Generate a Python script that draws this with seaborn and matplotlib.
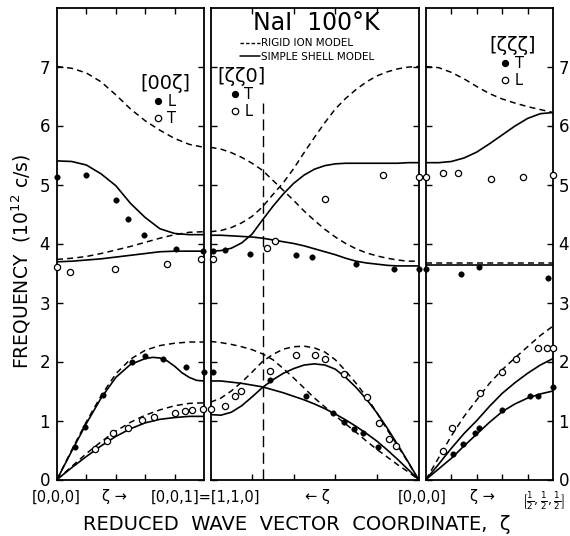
import seaborn as sns
import matplotlib.pyplot as plt
from matplotlib.lines import Line2D

# ---- [00ζ] : Γ -> X  (reduced coordinate 0..1)
z1 = [0.0, 0.1, 0.2, 0.3, 0.4, 0.5, 0.6, 0.7, 0.8, 0.9, 1.0]
lo_rigid_1 = [7.00, 6.97, 6.89, 6.74, 6.52, 6.28, 6.08, 5.92, 5.78, 5.68, 5.63]
lo_shell_1 = [5.40, 5.39, 5.33, 5.18, 4.98, 4.68, 4.44, 4.25, 4.17, 4.15, 4.15]
to_rigid_1 = [3.73, 3.75, 3.78, 3.83, 3.89, 3.95, 4.02, 4.09, 4.15, 4.19, 4.20]
to_shell_1 = [3.69, 3.70, 3.72, 3.74, 3.77, 3.80, 3.83, 3.86, 3.87, 3.87, 3.87]
la_rigid_1 = [0.0, 0.50, 0.98, 1.42, 1.79, 2.04, 2.19, 2.27, 2.31, 2.33, 2.33]
ta_rigid_1 = [0.0, 0.22, 0.44, 0.64, 0.82, 0.97, 1.09, 1.18, 1.25, 1.29, 1.30]
ta_shell_1 = [0.0, 0.20, 0.39, 0.57, 0.73, 0.86, 0.96, 1.02, 1.05, 1.07, 1.07]
z1_la = [0.0, 0.1, 0.2, 0.3, 0.4, 0.5, 0.6, 0.65, 0.7, 0.75, 0.8, 0.85, 0.9, 0.95, 1.0]
la_shell_1 = [0.0, 0.48, 0.95, 1.38, 1.73, 1.95, 2.05, 2.07, 2.06, 2.01, 1.92, 1.81, 1.73, 1.68, 1.67]

L1_z = [0.12, 0.19, 0.31, 0.51, 0.60, 0.72, 0.88, 1.0, 0.0, 0.20, 0.40, 0.48, 0.59, 0.81, 0.99]
L1_f = [0.55, 0.89, 1.44, 1.99, 2.09, 2.04, 1.91, 1.83, 5.13, 5.16, 4.74, 4.41, 4.14, 3.90, 3.88]
T1_z = [0.26, 0.34, 0.38, 0.485, 0.575, 0.66, 0.80, 0.87, 0.92, 0.99, 0.0, 0.09, 0.395, 0.75, 0.98]
T1_f = [0.51, 0.66, 0.79, 0.87, 1.01, 1.06, 1.13, 1.16, 1.17, 1.19, 3.60, 3.52, 3.57, 3.65, 3.74]

# ---- [ζζ0] : X=[1,1,0] -> Γ  (reduced coordinate 1..0)
z2 = [1.0, 0.95, 0.9, 0.85, 0.8, 0.75, 0.7, 0.65, 0.6, 0.55, 0.5,
      0.45, 0.4, 0.35, 0.3, 0.25, 0.2, 0.15, 0.1, 0.05, 0.0]
opt_rigid_up_2 = [4.20, 4.22, 4.27, 4.35, 4.46, 4.62, 4.83, 5.03, 5.27, 5.54, 5.80,
                  6.05, 6.28, 6.46, 6.61, 6.74, 6.84, 6.91, 6.96, 6.99, 7.00]
opt_rigid_dn_2 = [5.63, 5.60, 5.54, 5.46, 5.36, 5.24, 5.07, 4.90, 4.73, 4.55, 4.39,
                  4.24, 4.11, 4.00, 3.91, 3.84, 3.79, 3.75, 3.72, 3.70, 3.70]
opt_shell_up_2 = [3.87, 3.88, 3.92, 4.01, 4.16, 4.40, 4.63, 4.84, 5.02, 5.16, 5.26,
                  5.32, 5.35, 5.36, 5.36, 5.36, 5.36, 5.36, 5.36, 5.37, 5.37]
opt_shell_dn_2 = [4.14, 4.14, 4.13, 4.12, 4.11, 4.09, 4.06, 4.03, 4.00, 3.96, 3.91,
                  3.86, 3.81, 3.75, 3.70, 3.67, 3.65, 3.63, 3.62, 3.62, 3.62]
ac_rigid_a_2 = [2.34, 2.32, 2.29, 2.25, 2.20, 2.13, 2.03, 1.88, 1.72, 1.55, 1.38,
                1.23, 1.08, 0.94, 0.80, 0.65, 0.51, 0.38, 0.25, 0.13, 0.0]
ac_rigid_b_2 = [1.31, 1.38, 1.50, 1.65, 1.82, 2.00, 2.12, 2.21, 2.25, 2.26, 2.23,
                2.16, 2.03, 1.84, 1.63, 1.40, 1.13, 0.84, 0.57, 0.29, 0.0]
ac_shell_a_2 = [1.67, 1.67, 1.65, 1.63, 1.60, 1.57, 1.52, 1.47, 1.41, 1.35, 1.28,
                1.20, 1.11, 1.01, 0.90, 0.78, 0.65, 0.50, 0.34, 0.17, 0.0]
ac_shell_b_2 = [1.10, 1.09, 1.14, 1.25, 1.40, 1.56, 1.69, 1.80, 1.88, 1.94, 1.96,
                1.94, 1.87, 1.73, 1.56, 1.36, 1.13, 0.87, 0.59, 0.30, 0.0]
K_ZETA = 0.75
K_LINE_TOP = 6.38

T2_z = [0.99, 0.714, 0.54, 0.41, 0.356, 0.31, 0.265, 0.193,
        0.99, 0.93, 0.81, 0.59, 0.51, 0.30, 0.118, 0.0]
T2_f = [1.83, 1.69, 1.42, 1.12, 0.98, 0.86, 0.78, 0.55,
        3.87, 3.89, 3.83, 3.80, 3.77, 3.66, 3.56, 3.57]
L2_z = [1.0, 0.93, 0.88, 0.855, 0.714, 0.59, 0.50, 0.45, 0.356, 0.25, 0.19, 0.14, 0.11,
        0.99, 0.73, 0.69, 0.45, 0.17, 0.0]
L2_f = [1.19, 1.25, 1.42, 1.50, 1.84, 2.11, 2.11, 2.04, 1.78, 1.40, 0.95, 0.69, 0.56,
        3.74, 3.92, 4.04, 4.75, 5.16, 5.13]

# ---- [ζζζ] : Γ -> L  (reduced coordinate 0..1/2)
z3 = [0.0, 0.05, 0.1, 0.15, 0.2, 0.25, 0.3, 0.35, 0.4, 0.45, 0.5]
lo_rigid_3 = [7.00, 6.98, 6.90, 6.79, 6.66, 6.54, 6.45, 6.38, 6.32, 6.27, 6.22]
lo_shell_3 = [5.37, 5.37, 5.39, 5.45, 5.55, 5.69, 5.84, 5.99, 6.12, 6.20, 6.22]
to_rigid_3 = [3.67, 3.67, 3.67, 3.67, 3.67, 3.67, 3.67, 3.67, 3.67, 3.67, 3.67]
to_shell_3 = [3.63, 3.63, 3.63, 3.63, 3.63, 3.63, 3.63, 3.63, 3.63, 3.63, 3.63]
la_rigid_3 = [0.0, 0.37, 0.74, 1.07, 1.35, 1.63, 1.86, 2.06, 2.25, 2.44, 2.60]
la_shell_3 = [0.0, 0.26, 0.53, 0.78, 1.00, 1.24, 1.46, 1.64, 1.80, 1.94, 2.05]
ta_shell_3 = [0.0, 0.18, 0.36, 0.57, 0.77, 0.97, 1.15, 1.28, 1.38, 1.45, 1.50]

T3_z = [0.107, 0.147, 0.193, 0.208, 0.30, 0.41, 0.44, 0.50, 0.0, 0.137, 0.21, 0.48]
T3_f = [0.43, 0.61, 0.79, 0.88, 1.18, 1.42, 1.42, 1.57, 3.57, 3.48, 3.60, 3.42]
L3_z = [0.066, 0.104, 0.213, 0.30, 0.356, 0.44, 0.475, 0.50,
        0.0, 0.068, 0.127, 0.255, 0.38, 0.50]
L3_f = [0.48, 0.87, 1.47, 1.82, 2.04, 2.23, 2.23, 2.23,
        5.13, 5.19, 5.19, 5.09, 5.12, 5.16]

sns.set_style("ticks", {"xtick.direction": "in", "ytick.direction": "in"})
plt.rcParams["font.family"] = ["DejaVu Sans"]
plt.rcParams.update({"text.color": "black", "axes.labelcolor": "black",
                     "xtick.color": "black", "ytick.color": "black"})

W, H = 570, 536
fig = plt.figure(figsize=(W / 100, H / 100), dpi=100)


def panel(x0, x1, top=7.5, bottom=479.5):
    return fig.add_axes([x0 / W, 1 - bottom / H, (x1 - x0) / W, (bottom - top) / H])


ax1 = panel(57, 204)
ax2 = panel(210.5, 418.5)
ax3 = panel(426, 553)

DASH = (0, (4, 2.8))
LW = 1.2


def curve(ax, x, y, dashed):
    sns.lineplot(x=x, y=y, ax=ax, color="black", lw=LW * (0.9 if dashed else 1.0),
                 linestyle=DASH if dashed else "-", sort=False, estimator=None)


def points(ax, x, y, filled):
    if filled:
        sns.scatterplot(x=x, y=y, ax=ax, s=16, color="black", edgecolor="black",
                        linewidth=0.3, clip_on=False, zorder=5)
    else:
        sns.scatterplot(x=x, y=y, ax=ax, s=20, facecolor="white", edgecolor="black",
                        linewidth=0.9, clip_on=False, zorder=5)


# panel 1
for y, d in [(lo_rigid_1, True), (lo_shell_1, False), (to_rigid_1, True), (to_shell_1, False),
             (la_rigid_1, True), (ta_rigid_1, True), (ta_shell_1, False)]:
    curve(ax1, z1, y, d)
curve(ax1, z1_la, la_shell_1, False)
points(ax1, L1_z, L1_f, True)
points(ax1, T1_z, T1_f, False)

# panel 2
for y, d in [(opt_rigid_up_2, True), (opt_rigid_dn_2, True), (opt_shell_up_2, False),
             (opt_shell_dn_2, False), (ac_rigid_a_2, True), (ac_rigid_b_2, True),
             (ac_shell_a_2, False), (ac_shell_b_2, False)]:
    curve(ax2, z2, y, d)
points(ax2, T2_z, T2_f, True)
points(ax2, L2_z, L2_f, False)
ax2.axvline(K_ZETA, ymin=0, ymax=K_LINE_TOP / 8, color="black", lw=1.0,
            linestyle=(0, (8, 4)))

# panel 3
for y, d in [(lo_rigid_3, True), (lo_shell_3, False), (to_rigid_3, True), (to_shell_3, False),
             (la_rigid_3, True), (la_shell_3, False), (ta_shell_3, False)]:
    curve(ax3, z3, y, d)
points(ax3, T3_z, T3_f, True)
points(ax3, L3_z, L3_f, False)

for ax, lim, ticks in [(ax1, (0, 1), [0.2, 0.4, 0.6, 0.8]),
                       (ax2, (1, 0), [0.8, 0.6, 0.4, 0.2]),
                       (ax3, (0, 0.5), [0.1, 0.2, 0.3, 0.4])]:
    ax.set_xlim(*lim)
    ax.set_ylim(0, 8)
    ax.set_xticks(ticks)
    ax.set_yticks(range(0, 8))
    ax.set_xlabel("")
    ax.set_ylabel("")
    ax.tick_params(axis="both", which="both", direction="in", length=4, width=1.0,
                   top=True, bottom=True, left=True, right=True, colors="black",
                   labelbottom=False, labelleft=False, labelright=False, labelsize=12)
    for sp in ax.spines.values():
        sp.set_visible(True)
        sp.set_linewidth(1.3)
        sp.set_color("black")

ax1.tick_params(axis="y", labelleft=True, pad=5)
ax3.tick_params(axis="y", labelright=True, pad=4)

# legends
model_leg = ax2.legend(
    handles=[Line2D([], [], color="black", lw=1.0, linestyle=(0, (2.5, 1.5))),
             Line2D([], [], color="black", lw=1.1)],
    labels=["RIGID ION MODEL", "SIMPLE SHELL MODEL"],
    loc="upper left", bbox_to_anchor=(0.14, 0.935), frameon=False, fontsize=7.5,
    handlelength=2.0, handletextpad=0.05, labelspacing=0.35, borderpad=0, borderaxespad=0)
ax2.add_artist(model_leg)

filled_h = Line2D([], [], marker="o", ls="none", color="black", markersize=4.2)
open_h = Line2D([], [], marker="o", ls="none", markerfacecolor="white",
                markeredgecolor="black", markersize=4.6, markeredgewidth=0.9)


def key(ax, title, labels, x, y):
    leg = ax.legend(handles=[filled_h, open_h], labels=labels, title=title,
                    loc="upper center", bbox_to_anchor=(x, y), frameon=False,
                    fontsize=10.5, title_fontsize=14, handlelength=0.6,
                    handletextpad=0.35, labelspacing=0.15, borderpad=0,
                    borderaxespad=0)
    leg._legend_box.sep = 1
    return leg


key(ax1, "[00ζ]", ["L", "T"], 0.735, 0.86)
key(ax2, "[ζζ0]", ["T", "L"], 0.15, 0.875)
key(ax3, "[ζζζ]", ["T", "L"], 0.68, 0.94)

ax2.text(0.51, 0.967, "NaI  100°K", transform=ax2.transAxes, ha="center", va="center",
         fontsize=17)

# axis annotations
fig.text(21 / W, 1 - 261 / H, "FREQUENCY  (10$^{12}$ c/s)", rotation=90,
         ha="center", va="center", fontsize=13.5)
fig.text(297 / W, 1 - 524 / H, "REDUCED  WAVE  VECTOR  COORDINATE,  ζ",
         ha="center", va="center", fontsize=14)
for xp, s in [(56, "[0,0,0]"), (114, "ζ →"), (206, "[0,0,1]=[1,1,0]"),
              (317, "← ζ"), (422, "[0,0,0]"), (482, "ζ →")]:
    fig.text(xp / W, 1 - 497 / H, s, ha="center", va="center", fontsize=10.5)
fig.text(544 / W, 1 - 501 / H, r"$\left[\frac{1}{2},\frac{1}{2},\frac{1}{2}\right]$",
         ha="center", va="center", fontsize=9)

fig.savefig("out.png", dpi=100)
